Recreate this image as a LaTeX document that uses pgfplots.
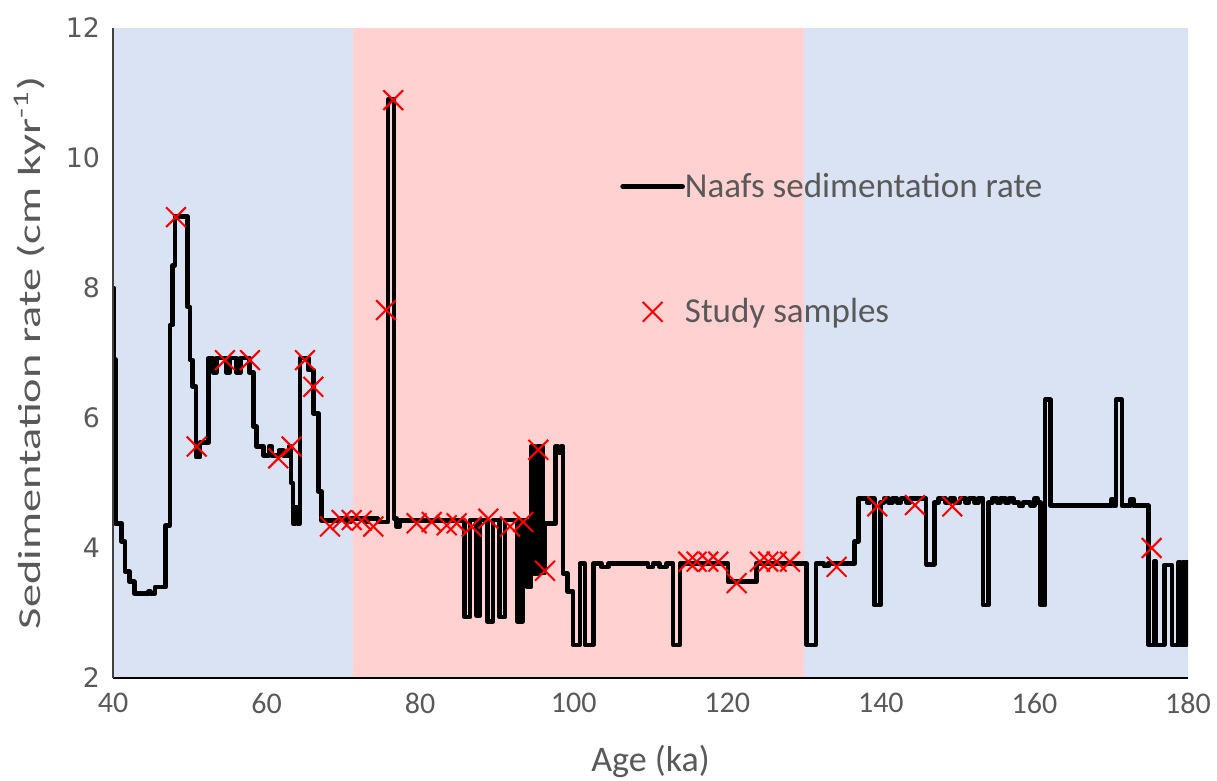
\documentclass[border=0pt]{standalone}
\usepackage{fontspec}
\setmainfont{Carlito}
\newfontfamily\dejavu{DejaVu Sans}
\usepackage{graphicx}
\usepackage{pgfplots}
\usepackage{pgfplotstable}
\pgfplotsset{compat=1.18}
\definecolor{bluebg}{RGB}{218,227,243}
\definecolor{pinkbg}{RGB}{255,209,209}
\definecolor{txtgray}{RGB}{89,89,89}

\pgfplotstableread{
x y
40.0 8.0
40.12 6.9
40.3 4.38
41.13 4.10
41.56 3.64
42.13 3.48
42.78 3.30
44.6 3.33
44.85 3.30
45.47 3.40
46.86 4.35
47.42 7.43
47.77 8.35
48.07 9.10
49.68 7.71
50.03 6.89
50.38 6.48
50.81 5.40
51.33 5.62
52.45 6.92
53.0 6.70
53.45 6.92
54.75 6.70
55.2 6.92
56.1 6.70
56.6 6.92
57.8 6.70
58.27 5.87
58.71 5.56
59.6 5.42
60.3 5.56
60.7 5.42
61.6 5.50
62.2 5.42
62.9 5.56
63.2 5.00
63.45 4.38
63.75 4.62
64.05 4.38
64.35 6.92
65.43 6.74
66.09 6.07
66.74 4.87
67.18 4.42
69.5 4.45
70.4 4.40
71.0 4.45
72.8 4.40
73.2 4.45
74.5 4.40
75.8 10.90
76.6 4.45
76.95 4.33
77.3 4.42
85.75 2.94
86.5 4.43
87.35 2.96
87.8 4.43
88.75 2.87
89.5 4.43
90.35 2.94
91.05 4.43
92.65 2.87
93.35 4.43
93.9 3.40
94.45 5.56
94.9 3.60
95.25 5.56
95.9 3.62
96.25 4.38
97.65 5.56
97.95 5.46
98.35 5.56
98.6 3.61
99.2 3.33
99.9 2.51
100.8 3.76
101.45 2.51
102.55 3.76
103.6 3.71
104.5 3.76
109.7 3.71
110.35 3.76
111.2 3.71
112.1 3.76
112.95 2.51
113.85 3.76
120.1 3.48
123.8 3.76
130.35 2.51
131.55 3.76
132.6 3.72
133.2 3.76
136.6 4.10
137.05 4.76
138.2 4.70
138.6 4.76
139.15 3.12
139.95 4.70
140.4 4.76
141.0 4.70
141.5 4.76
142.1 4.70
142.6 4.76
143.3 4.70
143.8 4.76
145.9 3.75
146.95 4.70
147.5 4.76
148.4 4.70
149.0 4.76
149.6 4.70
150.3 4.76
151.0 4.70
151.5 4.76
152.2 4.70
152.7 4.76
153.3 3.12
154.0 4.70
154.5 4.76
155.1 4.70
155.6 4.76
156.2 4.70
156.7 4.76
157.3 4.70
158.0 4.65
158.5 4.70
159.5 4.65
160.0 4.76
160.4 4.70
160.8 3.12
161.4 6.28
162.1 4.65
170.0 4.75
170.3 4.65
170.6 6.28
171.4 4.65
172.5 4.75
172.9 4.65
174.85 2.51
175.55 3.79
175.85 2.51
176.9 3.74
177.9 2.51
178.75 3.78
179.0 2.51
179.35 3.78
179.55 2.51
179.8 3.78
180.0 3.78
}\ratetable

\pgfplotstableread{
x y
48.2 9.09
50.9 5.56
54.58 6.89
57.84 6.89
61.53 5.38
63.27 5.56
65.0 6.89
66.09 6.48
68.26 4.33
69.78 4.43
71.08 4.43
72.38 4.42
73.9 4.33
75.55 7.66
76.5 10.89
79.55 4.38
81.5 4.40
83.46 4.35
84.76 4.38
86.71 4.33
88.88 4.45
91.7 4.33
93.43 4.40
95.39 5.51
96.26 3.65
114.92 3.79
116.0 3.79
117.52 3.79
118.83 3.79
121.22 3.46
124.25 3.79
125.34 3.79
126.43 3.79
128.16 3.79
134.24 3.71
139.53 4.64
144.44 4.66
149.3 4.64
175.26 4.0
}\sampletable

\begin{document}
\begin{tikzpicture}
\begin{axis}[
  scale only axis, width=537.5pt, height=325pt,
  xmin=40, xmax=180, ymin=2, ymax=12,
  xtick={40,60,...,180}, ytick={2,4,...,12},
  major tick length=0pt,
  axis x line*=bottom, axis y line*=left,
  x axis line style={black, line width=0.8pt, -},
  y axis line style={black!75, line width=0.8pt, -},
  axis on top,
  /pgf/number format/assume math mode=true,
  xticklabel style={font=\fontsize{15}{15}\selectfont, text=txtgray, yshift=-4pt},
  yticklabel style={font=\dejavu\fontsize{13.4}{13.4}\selectfont, text=txtgray, xshift=-3pt},
  xlabel={Age (ka)},
  ylabel={\scalebox{1.45}[1]{Sedimentation rate (cm kyr\textsuperscript{-1})}},
  xlabel style={font=\fontsize{18}{18}\selectfont, text=txtgray, at={(axis description cs:0.5,-0.128)}, anchor=center},
  ylabel style={font=\fontsize{16}{16}\selectfont, text=txtgray, at={(axis description cs:-0.0772,0.5)}, anchor=center},
  legend style={draw=none, fill=none, at={(axis description cs:0.466,0.79)}, anchor=north west,
    font=\fontsize{17.5}{17.5}\selectfont, text=txtgray, row sep=45pt},
  legend cell align=left,
]
\fill[bluebg] (axis cs:40,2) rectangle (axis cs:71.25,12);
\fill[pinkbg] (axis cs:71.25,2) rectangle (axis cs:130.05,12);
\fill[bluebg] (axis cs:130.05,2) rectangle (axis cs:180,12);
\addplot[const plot, black, line width=2.3pt, line join=round, line cap=round,
  legend image code/.code={\draw[black, line width=2.3pt] (0pt,0pt) -- (30pt,0pt);}]
  table[x=x,y=y] {\ratetable};
\addlegendentry{\hspace{-2pt}Naafs sedimentation rate}
\addplot[only marks, mark=x, mark size=7pt, red, mark options={line width=1pt},
  legend image code/.code={\draw[red, line width=1pt] plot[mark=x, mark size=7pt] coordinates {(15pt,0pt)};}]
  table[x=x,y=y] {\sampletable};
\addlegendentry{\hspace{-2pt}Study samples}
\end{axis}
\pgfresetboundingbox
\path ([shift={(-56.5pt,-51.5pt)}]current axis.south west) rectangle ([shift={(14.5pt,14pt)}]current axis.north east);
\end{tikzpicture}
\end{document}
